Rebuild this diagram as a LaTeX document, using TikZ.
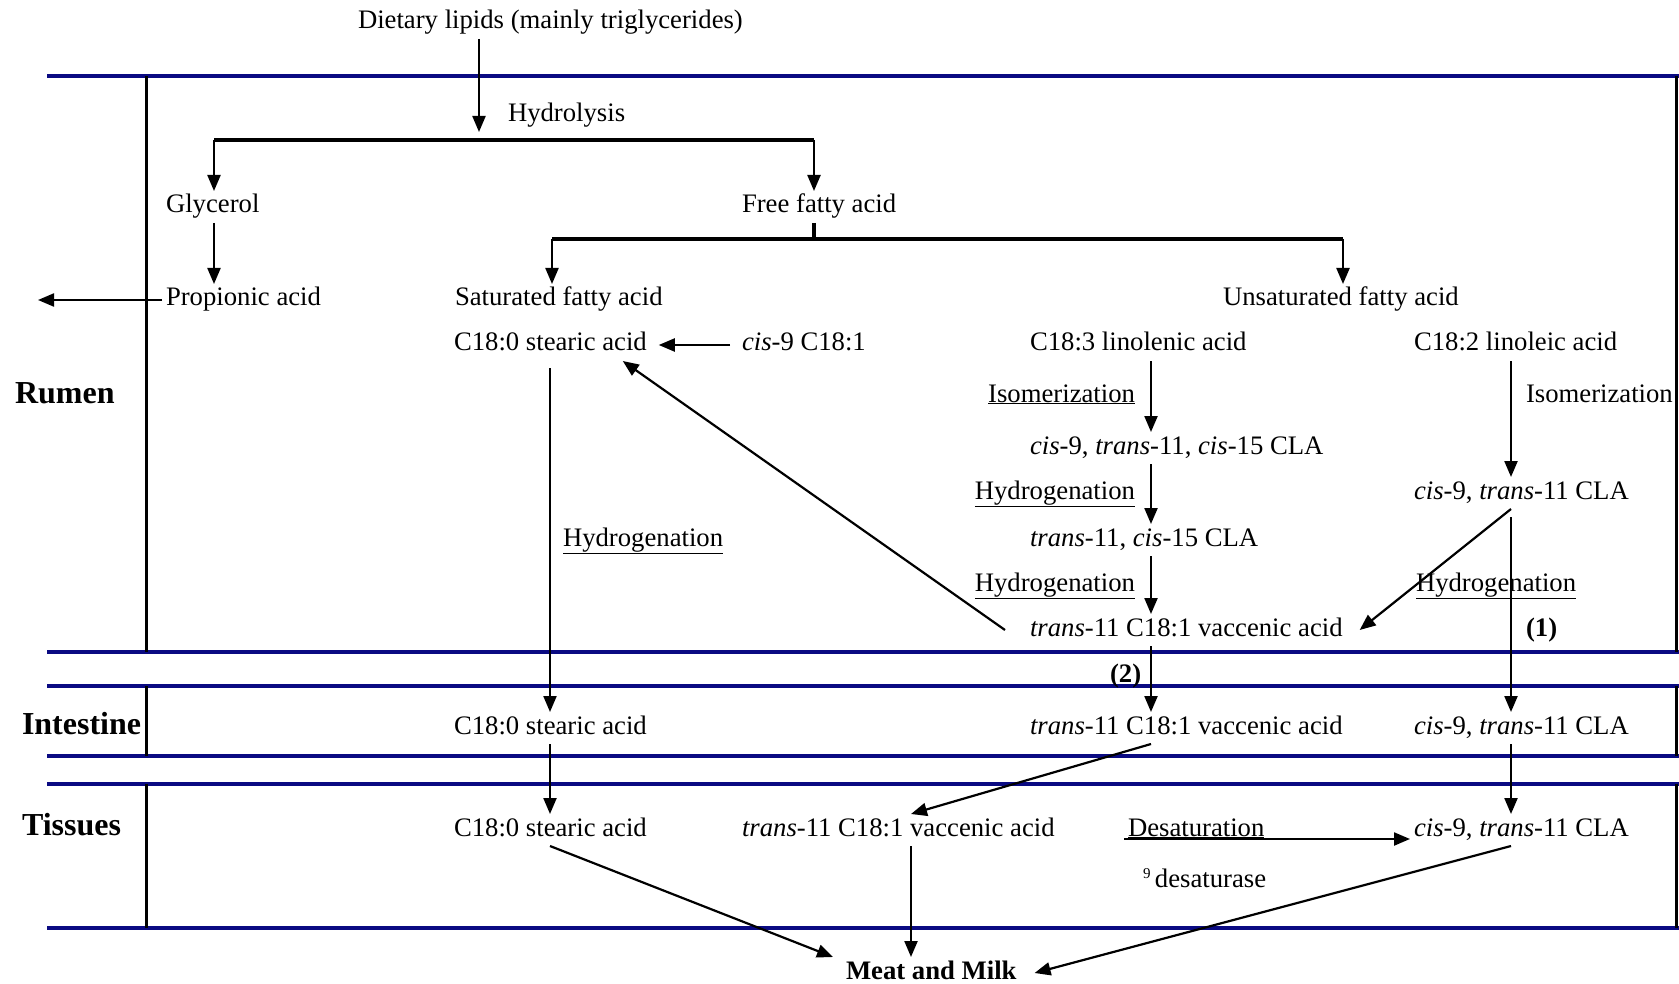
\documentclass[tikz,border=0pt]{standalone}
\usepackage{fontspec}
\setmainfont{Liberation Serif}
\usetikzlibrary{arrows.meta}
\definecolor{navy}{RGB}{10,10,130}
\begin{document}
\begin{tikzpicture}[x=1pt,y=-1pt,
  every node/.style={font=\fontsize{26.7}{32}\selectfont, inner sep=0pt, outer sep=4pt, text height=18pt, text depth=6pt},
  tx/.style={anchor=base west},
  txe/.style={anchor=base east},
  lbl/.style={anchor=base west, font=\fontsize{32}{38}\selectfont\bfseries},
  bnum/.style={anchor=base west, font=\fontsize{26.7}{32}\selectfont\bfseries},
  arr/.style={line width=2.2pt, -{Triangle[length=16pt,width=13pt]}},
  bk/.style={line width=4pt},
  band/.style={draw=navy, line width=3.5pt},
  wall/.style={line width=3pt}]
\useasboundingbox (0,0) rectangle (1679,984);

% compartment bands
\draw[band] (47,76) -- (1679,76);
\draw[band] (47,652) -- (1679,652);
\draw[band] (47,686) -- (1679,686);
\draw[band] (47,756) -- (1679,756);
\draw[band] (47,784) -- (1679,784);
\draw[band] (47,928) -- (1679,928);
\draw[wall] (146,76) -- (146,652);
\draw[wall] (146,686) -- (146,756);
\draw[wall] (146,784) -- (146,928);
\draw[wall] (1676,76) -- (1676,652);
\draw[wall] (1676,686) -- (1676,756);
\draw[wall] (1676,784) -- (1676,928);

% compartment labels
\node[lbl] (rumen) at (11,403) {Rumen};
\node[lbl] (intest) at (18,734) {Intestine};
\node[lbl] (tiss) at (18,835) {Tissues};

% column coordinates
\coordinate (cA) at (550,0);
\coordinate (cB) at (1151,0);
\coordinate (cC) at (1511,0);
\coordinate (cV) at (911,0);
\coordinate (hyd) at (479,132);
\coordinate (bL) at (214,140);
\coordinate (bR) at (814,140);
\coordinate (fR) at (814,239);
\coordinate (sL) at (552,239);
\coordinate (sR) at (1343,239);
\coordinate (out) at (38,0);
\coordinate (dsy) at (0,839);

% text nodes
\node[tx] (diet) at (354,29) {Dietary lipids (mainly triglycerides)};
\node[tx] (hydro) at (504,122) {Hydrolysis};
\node[tx] (glyc) at (162,213) {Glycerol};
\node[tx] (ffa) at (738,213) {Free fatty acid};
\node[tx] (prop) at (162,306) {Propionic acid};
\node[tx] (sat) at (451,306) {Saturated fatty acid};
\node[tx] (unsat) at (1219,306) {Unsaturated fatty acid};
\node[tx] (st1) at (450,351) {C18:0 stearic acid};
\node[tx] (cis9) at (738,351) {\textit{cis}-9 C18:1};
\node[tx] (lin3) at (1026,351) {C18:3 linolenic acid};
\node[tx] (lin2) at (1410,351) {C18:2 linoleic acid};
\node[txe] (iso1) at (1139,402) {\underline{Isomerization}};
\node[tx] (cla3) at (1026,454) {\textit{cis}-9, \textit{trans}-11, \textit{cis}-15 CLA};
\node[txe] (hyd1) at (1139,499) {\underline{Hydrogenation}};
\node[tx] (cla2a) at (1026,546) {\textit{trans}-11, \textit{cis}-15 CLA};
\node[txe] (hyd2) at (1139,591) {\underline{Hydrogenation}};
\node[tx] (vac1) at (1026,636) {\textit{trans}-11 C18:1 vaccenic acid};
\node[tx] (iso2) at (1522,402) {Isomerization};
\node[tx] (clar) at (1410,499) {\textit{cis}-9, \textit{trans}-11 CLA};
\node[tx] (hyd3) at (1412,591) {\underline{Hydrogenation}};
\node[bnum] (one) at (1522,636) {(1)};
\node[tx] (hydS) at (559,546) {\underline{Hydrogenation}};
\node[bnum] (two) at (1106,682) {(2)};
\node[tx] (st2) at (450,734) {C18:0 stearic acid};
\node[tx] (vac2) at (1026,734) {\textit{trans}-11 C18:1 vaccenic acid};
\node[tx] (cla2) at (1410,734) {\textit{cis}-9, \textit{trans}-11 CLA};
\node[tx] (st3) at (450,836) {C18:0 stearic acid};
\node[tx] (vac3) at (738,836) {\textit{trans}-11 C18:1 vaccenic acid};
\node[tx] (cla3t) at (1410,836) {\textit{cis}-9, \textit{trans}-11 CLA};
\node[tx] (desat) at (1124,836) {\underline{Desaturation}};
\node[tx] (dsase) at (1139,887) {\raisebox{9pt}{\fontsize{15}{18}\selectfont 9}\,desaturase};
\node[tx, font=\fontsize{26.7}{32}\selectfont\bfseries] (meat) at (842,979) {Meat and Milk};

% connectors
\draw[arr] (diet.south -| hyd) -- (hyd);
\draw[bk] (bL) -- (bR);
\draw[arr] (bL) -- (glyc.north -| bL);
\draw[arr] (bR) -- (ffa.north -| bR);
\draw[arr] (glyc.south -| bL) -- (prop.north -| bL);
\draw[arr] (prop.west) -- (out |- prop.west);
\draw[bk] (ffa.south -| fR) -- (fR);
\draw[bk] (sL) -- (sR);
\draw[arr] (sL) -- (sat.north -| sL);
\draw[arr] (sR) -- (unsat.north -| sR);
\draw[arr] ([xshift=-8pt]cis9.west) -- ([xshift=8pt]st1.east);
\draw[arr] (lin3.south -| cB) -- (cla3.north -| cB);
\draw[arr] (cla3.south -| cB) -- (cla2a.north -| cB);
\draw[arr] (cla2a.south -| cB) -- (vac1.north -| cB);
\draw[arr] (vac1.south -| cB) -- (vac2.north -| cB);
\draw[arr] ([xshift=-21pt]vac1.west) -- ([xshift=-28pt]st1.south east);
\draw[arr] (lin2.south -| cC) -- (clar.north -| cC);
\draw[arr] (clar.south -| cC) -- ([xshift=13pt]vac1.east);
\draw[arr] ([yshift=-8pt]clar.south -| cC) -- (cla2.north -| cC);
\draw[arr] ([yshift=-7pt]st1.south -| cA) -- (st2.north -| cA);
\draw[arr] (st2.south -| cA) -- (st3.north -| cA);
\draw[arr] (vac2.south -| cB) -- (vac3.north -| cV);
\draw[arr] (cla2.south -| cC) -- (cla3t.north -| cC);
\draw[arr] (desat.west |- dsy) -- (cla3t.west |- dsy);
\draw[arr] (st3.south -| cA) -- ([xshift=-9pt]meat.north west);
\draw[arr] (vac3.south -| cV) -- (meat.north -| cV);
\draw[arr] (cla3t.south -| cC) -- ([xshift=14pt]meat.east);
\end{tikzpicture}
\end{document}
